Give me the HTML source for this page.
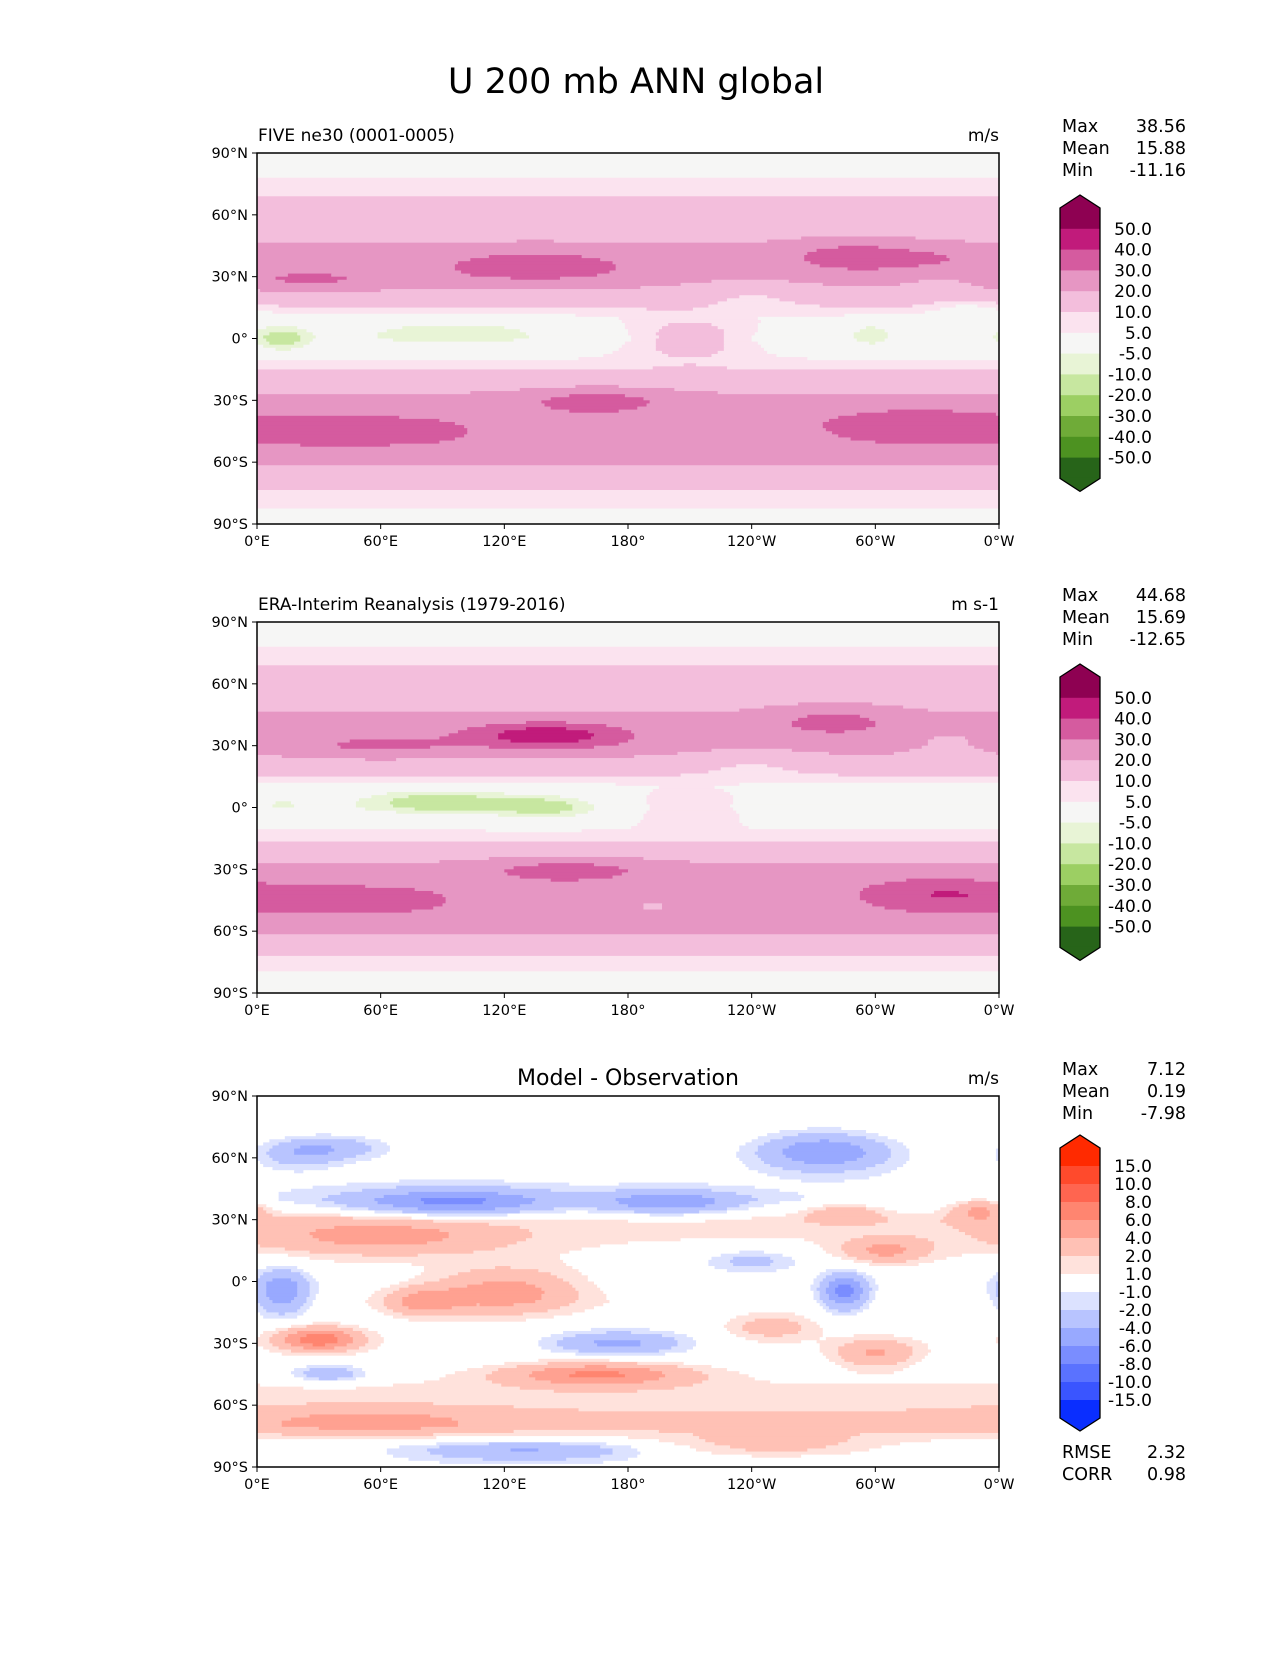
<!DOCTYPE html>
<html><head><meta charset="utf-8"><style>
body{margin:0;background:#fff;font-family:"Liberation Sans","DejaVu Sans",sans-serif}
svg text{font-family:"DejaVu Sans","Liberation Sans",sans-serif;fill:#000}
</style></head><body>
<svg id="fig" width="1275" height="1650" viewBox="0 0 1275 1650" xmlns="http://www.w3.org/2000/svg">
<rect width="1275" height="1650" fill="#fff"/>
<text x="636" y="93" font-size="35" text-anchor="middle">U 200 mb ANN global</text>
</svg>
<script>
// ---- data ----
const piygLevels=[-50,-40,-30,-20,-10,-5,5,10,20,30,40,50];
const piygColors=['#276419','#4d9221','#6fab38','#9ccf63','#c7e7a0','#e8f4d6','#f6f6f5','#fbe3ef','#f3bedc','#e696c3','#d55b9f','#c11b7b','#8e0152'];
const diffLevels=[-15,-10,-8,-6,-4,-2,-1,1,2,4,6,8,10,15];
const diffColors=['#0a2eff','#3a55ff','#5a72ff','#7a8dff','#98a9ff','#b8c4ff','#dce2ff','#ffffff','#ffe2dc','#ffc1b5','#ffa191','#ff8570','#ff6550','#ff4a2c','#ff2a00'];
const profLats=[90,80,70,60,50,40,30,20,10,0,-10,-20,-30,-40,-50,-60,-70,-80,-90];
const modelProfile=[0,4,9,15,18,23,24,16,4,0,5,14,23,27,27,22,12,6,2];
const obsProfile=[0,4,9,15,18,23,24,16,3,-1,4,13,23,26,26,21,11,5,1];
const diffProfile=[0,0,0.3,0,-0.5,-1,1.5,1,0.5,0,0.5,0,0.5,0,1,1.8,2.5,0,-0.5];
// blobs: [lon, lat, amplitude, lonWidth, latWidth]
const modelBlobs=[[135,35,14,45,7],[25,28,9,35,5],[290,40,14,30,7],[335,30,-5,22,9],[330,38,8,25,6],[95,3,-10,50,7],[12,0,-14,14,7],[298,2,-9,12,7],[210,0,13,30,10],[165,-30,12,35,6],[45,-45,9,55,8],[320,-42,11,40,8],[220,-40,-3,30,8],[240,22,-7,30,7],[345,12,-8,18,7],[200,-55,-3,40,6]];
const obsBlobs=[[140,35,24,38,6],[60,30,9,35,5],[280,42,12,30,7],[335,30,-5,22,9],[88,3,-15,38,6],[140,0,-12,25,6],[12,2,-5,12,6],[210,0,9,30,9],[150,-30,12,40,6],[40,-45,12,50,7],[330,-42,13,35,8],[220,-40,-3,30,8],[240,22,-7,30,7],[192,-48,-7,10,3]];
const diffBlobs=[[95,38,-6,50,7],[200,38,-5,35,6],[275,63,-6,32,9],[20,62,-3,20,7],[60,22,4,60,9],[120,-5,5,35,11],[80,-10,4,18,7],[12,-5,-6,14,11],[285,-5,-7,12,9],[305,15,4,20,6],[285,33,3,18,5],[350,35,4,14,6],[30,-28,7,20,6],[175,-30,-5,35,6],[250,-22,3,22,6],[300,-35,4,20,7],[165,-45,6,45,6],[55,-68,3,55,6],[130,-82,-4,55,5],[250,-80,2.5,55,6],[35,-45,-4,18,4],[40,65,-3,25,6],[240,10,-3,25,6]];
const yTicks=['90°N','60°N','30°N','0°','30°S','60°S','90°S'];
const xTicks=['0°E','60°E','120°E','180°','120°W','60°W','0°W'];
const panelTitles=['FIVE ne30 (0001-0005)','ERA-Interim Reanalysis (1979-2016)','Model - Observation'];
const panelUnits=['m/s','m s-1','m/s'];
const statsVals=[['38.56','15.88','-11.16'],['44.68','15.69','-12.65'],['7.12','0.19','-7.98']];
const piygLabels=['50.0','40.0','30.0','20.0','10.0','5.0','-5.0','-10.0','-20.0','-30.0','-40.0','-50.0'];
const diffLabels=['15.0','10.0','8.0','6.0','4.0','2.0','1.0','-1.0','-2.0','-4.0','-6.0','-8.0','-10.0','-15.0'];
// ---- geometry ----
const NS='http://www.w3.org/2000/svg';
const svg=document.getElementById('fig');
const X0=257,W=742,H=371;
const panelTops=[153,622,1096];
function el(t,a,p){const e=document.createElementNS(NS,t);for(const k in a)e.setAttribute(k,a[k]);(p||svg).appendChild(e);return e;}
function xOf(lon){return X0+lon/360*W;}
function yOf(lat,top){return top+(90-lat)/180*H;}
function interp(lat,prof){for(let i=0;i<profLats.length-1;i++){if(lat<=profLats[i]&&lat>=profLats[i+1]){const t=(profLats[i]-lat)/(profLats[i]-profLats[i+1]);return prof[i]*(1-t)+prof[i+1]*t;}}return 0;}
function field(lon,lat,prof,blobs){let v=interp(lat,prof);for(const b of blobs){let d=lon-b[0];d=((d+540)%360)-180;v+=b[2]*Math.exp(-((d/b[3])**2+((lat-b[1])/b[4])**2));}return v;}
function cls(v,levels){let i=0;while(i<levels.length&&v>=levels[i])i++;return i;}
function drawMap(pi,prof,blobs,levels,colors){
  const top=panelTops[pi];
  const g=el('g',{},svg);
  
  
  const d=1.5;
  for(let lat=90;lat>-90+1e-6;lat-=d){
    let start=0,prevC=-1;
    for(let lon=0;lon<=360+1e-6;lon+=d){
      const c=lon<360-1e-6?cls(field(lon+d/2,lat-d/2,prof,blobs),levels):-2;
      if(c!==prevC){
        if(prevC>=0){el('rect',{x:xOf(start).toFixed(2),y:yOf(lat,top).toFixed(2),width:(xOf(lon)-xOf(start)+0.6).toFixed(2),height:(H*d/180+0.6).toFixed(2),fill:colors[prevC]},g);}
        start=lon;prevC=c;
      }
    }
  }
  const fr=el('rect',{x:X0,y:top,width:W,height:H,fill:'none',stroke:'#000','stroke-width':1.5});
  
  
  yTicks.forEach((t,i)=>{const y=top+i*H/6;el('line',{x1:X0-5,x2:X0,y1:y,y2:y,stroke:'#000'});
    const tx=el('text',{x:X0-9,y:y+5,'font-size':14.5,'text-anchor':'end'});tx.textContent=t;
    
    });
  xTicks.forEach((t,i)=>{const x=X0+i*W/6;el('line',{x1:x,x2:x,y1:top+H,y2:top+H+5,stroke:'#000'});
    const tx=el('text',{x:x,y:top+H+22,'font-size':14.5,'text-anchor':'middle'});tx.textContent=t;
    
    });
  let tt;
  if(pi<2){tt=el('text',{x:X0+1,y:top-12,'font-size':17});}
  else{tt=el('text',{x:X0+W/2,y:top-11,'font-size':22,'text-anchor':'middle'});}
  tt.textContent=panelTitles[pi];
  
  
  const u=el('text',{x:X0+W,y:top-12,'font-size':17,'text-anchor':'end'});u.textContent=panelUnits[pi];
  
  
  ['Max','Mean','Min'].forEach((n,i)=>{const y=top-21+i*22;
    const a=el('text',{x:1062,y:y,'font-size':17.5});a.textContent=n;
    
    
    const b=el('text',{x:1186,y:y,'font-size':17.5,'text-anchor':'end'});b.textContent=statsVals[pi][i];
    
    });
}
function drawBar(pi,colors,labels,rectTop,seg){
  const x=1060,w=40,n=colors.length,bot=rectTop+n*seg,tip=13;
  const g=el('g',{});
  
  
  for(let i=0;i<n;i++){const c=colors[n-1-i];const y=rectTop+i*seg;
    el('rect',{x:x,y:y,width:w,height:seg+0.6,fill:c},g);}
  el('polygon',{points:`${x},${rectTop+0.5} ${x+w/2},${rectTop-tip} ${x+w},${rectTop+0.5}`,fill:colors[n-1]},g);
  el('polygon',{points:`${x},${bot-0.5} ${x+w/2},${bot+tip} ${x+w},${bot-0.5}`,fill:colors[0]},g);
  el('polygon',{points:`${x},${rectTop} ${x+w/2},${rectTop-tip} ${x+w},${rectTop} ${x+w},${bot} ${x+w/2},${bot+tip} ${x},${bot}`,fill:'none',stroke:'#000','stroke-width':1.3},g);
  labels.forEach((l,i)=>{const y=rectTop+(i+1)*seg;const t=el('text',{x:1152,y:y+6,'font-size':17,'text-anchor':'end'},g);t.textContent=l;
    
    });
}
drawMap(0,modelProfile,modelBlobs,piygLevels,piygColors);
drawMap(1,obsProfile,obsBlobs,piygLevels,piygColors);
drawMap(2,diffProfile,diffBlobs,diffLevels,diffColors);
drawBar(0,piygColors,piygLabels,208,20.8);
drawBar(1,piygColors,piygLabels,677,20.8);
drawBar(2,diffColors,diffLabels,1148,18);
[['RMSE','2.32',1458],['CORR','0.98',1480]].forEach(r=>{
  const a=el('text',{x:1062,y:r[2],'font-size':17.5});a.textContent=r[0];
  
  
  const b=el('text',{x:1186,y:r[2],'font-size':17.5,'text-anchor':'end'});b.textContent=r[1];
  
  
});
</script>
</body></html>
